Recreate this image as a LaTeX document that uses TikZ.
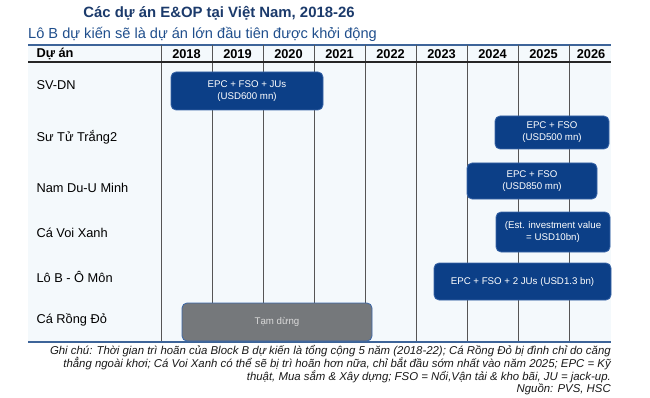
\documentclass[tikz,border=0pt]{standalone}
\usepackage{fontspec}
\setmainfont{Liberation Sans}
\usepackage{xcolor}
\definecolor{titleblue}{HTML}{1B3A6B}
\definecolor{subblue}{HTML}{1F4E8C}
\definecolor{barblue}{HTML}{0C3F87}
\definecolor{barline}{HTML}{3A66A8}
\definecolor{rulebl}{HTML}{3D6499}
\definecolor{bodybg}{HTML}{F4F9FC}
\definecolor{gridgray}{HTML}{555555}
\definecolor{holdgray}{HTML}{75787B}

\tikzset{
  bar/.style={draw=barline,line width=0.8pt,fill=barblue,rounded corners=5pt,text=white,
    align=center,inner sep=0pt,font=\fontsize{9.7}{12}\selectfont},
  yearlbl/.style={font=\bfseries\fontsize{12.8}{15}\selectfont},
  projlbl/.style={anchor=west,font=\fontsize{12.8}{15}\selectfont}
}

\begin{document}
\begin{tikzpicture}[x=1pt,y=-1pt]
\useasboundingbox (0,0) rectangle (650,398);
\fill[bodybg] (28,45) rectangle (611,342);
\node[text=titleblue,font=\bfseries\fontsize{14.9}{18}\selectfont] (title) at (219,13) {Các dự án E\&OP tại Việt Nam, 2018-26};
\node[text=subblue,anchor=west,font=\fontsize{14.6}{17}\selectfont,inner sep=0pt] (subtitle) at (28,34) {Lô B dự kiến sẽ là dự án lớn đầu tiên được khởi động};
\draw[rulebl,line width=1.4pt] (28,45) -- (611,45);
\foreach \x in {161,212,263,314,365,416,467,518,569}
  \draw[gridgray,line width=0.8pt] (\x,45) -- (\x,342);
\draw[black!85,line width=1.2pt] (28,62) -- (611,62);
\draw[rulebl,line width=1.4pt] (28,342) -- (611,342);
\node[yearlbl,anchor=west] (hproj) at (33,54) {Dự án};
\foreach \yr [count=\i from 0] in {2018,2019,2020,2021,2022,2023,2024,2025}
  \node[yearlbl] (y\yr) at (186.5+51*\i,54) {\yr};
\node[yearlbl] (y2026) at (591,54) {2026};
\node[projlbl] (svdn) at (33,85) {SV-DN};
\node[projlbl] (sutu) at (33,137) {Sư Tử Trắng2};
\node[projlbl] (namdu) at (33,188) {Nam Du-U Minh};
\node[projlbl] (cavoi) at (33,233) {Cá Voi Xanh};
\node[projlbl] (lob) at (33,277) {Lô B - Ô Môn};
\node[projlbl] (carong) at (33,320) {Cá Rồng Đỏ};
\node[bar,minimum width=152pt,minimum height=38pt] (barsvdn) at (247,91) {EPC + FSO + JUs\\(USD600 mn)};
\node[bar,minimum width=114pt,minimum height=33pt] (barsutu) at (552,132.5) {EPC + FSO\\(USD500 mn)};
\node[bar,minimum width=130pt,minimum height=36pt] (barnamdu) at (532,181) {EPC + FSO\\(USD850 mn)};
\node[bar,minimum width=114pt,minimum height=40pt] (barcavoi) at (553,232) {(Est. investment value\\= USD10bn)};
\node[bar,minimum width=177pt,minimum height=37pt] (barlob) at (522.5,281.5) {EPC + FSO + 2 JUs (USD1.3 bn)};
\node[bar,fill=holdgray,text=black!15,minimum width=190pt,minimum height=38pt] (barcarong) at (277,322) {Tạm dừng};
\node[anchor=north east,align=right,inner sep=0pt,text=black!90,font=\itshape\fontsize{11.4}{12.8}\selectfont] (notes) at (611,345)
  {Ghi chú: Thời gian trì hoãn của Block B dự kiến là tổng cộng 5 năm (2018-22); Cá Rồng Đỏ bị đình chỉ do căng\\
   thẳng ngoài khơi; Cá Voi Xanh có thể sẽ bị trì hoãn hơn nữa, chỉ bắt đầu sớm nhất vào năm 2025; EPC = Kỹ\\
   thuật, Mua sắm \& Xây dựng; FSO = Nổi,Vận tải \& kho bãi, JU = jack-up.\\
   Nguồn: PVS, HSC};
\end{tikzpicture}
\end{document}
